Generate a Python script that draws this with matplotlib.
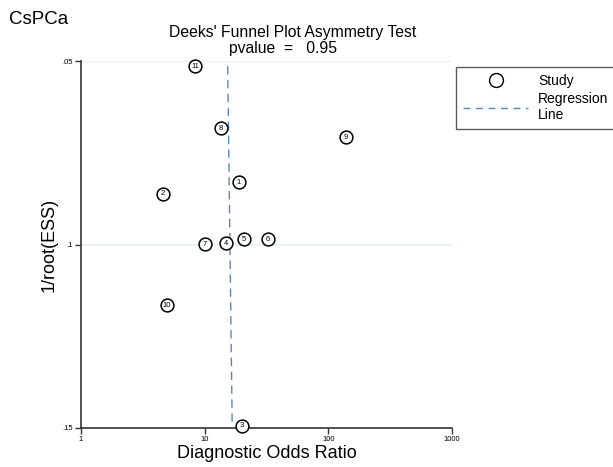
import matplotlib
matplotlib.use("Agg")
import matplotlib.pyplot as plt
from matplotlib.lines import Line2D

plt.rcParams['font.family'] = ['Liberation Sans', 'DejaVu Sans']

# Study data: diagnostic odds ratio vs 1/root(ESS)
study_ids = ['1', '2', '3', '4', '5', '6', '7', '8', '9', '10', '11']
dor = [18.9, 4.6, 19.9, 14.9, 20.8, 32.3, 10.1, 13.5, 138.8, 4.96, 8.35]
inv_root_ess = [0.0831, 0.0862, 0.1494, 0.0996, 0.0986, 0.0986, 0.0999, 0.0683, 0.0708, 0.1165, 0.0514]

# Regression line end points
reg_dor = [15.35, 16.7]
reg_y = [0.0514, 0.1494]

x_ticks = [1, 10, 100, 1000]
x_ticklabels = ['1', '10', '100', '1000']
y_ticks = [0.05, 0.1, 0.15]
y_ticklabels = ['.05', '.1', '.15']

W, H = 613, 467
fig = plt.figure(figsize=(W / 100, H / 100), dpi=100)
ax = fig.add_axes([81 / W, 1 - 428 / H, (452 - 81) / W, (428 - 61) / H])

ax.set_xscale('log')
ax.set_xlim(1, 1000)
ax.set_ylim(0.15, 0.05)

for gy in [0.05, 0.1]:
    ax.axhline(gy, color='#e3eef2', lw=1.2, zorder=0)

ax.plot(reg_dor, reg_y, ls=(0, (6, 4)), color='#5a88b5', lw=1.0, zorder=2)

ax.scatter(dor, inv_root_ess, s=85, facecolor='white', edgecolor='black', linewidths=1.1, zorder=3, clip_on=False)
for sid, xv, yv in zip(study_ids, dor, inv_root_ess):
    ax.text(xv, yv, sid, ha='center', va='center', fontsize=5.5, zorder=4)

ax.set_xticks(x_ticks)
ax.set_xticklabels(x_ticklabels)
ax.set_xticks([], minor=True)
ax.set_yticks(y_ticks)
ax.set_yticklabels(y_ticklabels)
ax.tick_params(axis='both', labelsize=5.5, length=4, width=1, color='#333333', direction='out', pad=2)

for s in ['top', 'right']:
    ax.spines[s].set_visible(False)
for s in ['left', 'bottom']:
    ax.spines[s].set_color('#333333')
    ax.spines[s].set_linewidth(1.2)

ax.set_xlabel('Diagnostic Odds Ratio', fontsize=13, labelpad=1)
ax.set_ylabel('1/root(ESS)', fontsize=13, labelpad=3)

fig.text(9 / W, 1 - 20 / H, 'CsPCa', fontsize=13.5, ha='left', va='center')
fig.text(293 / W, 1 - 32 / H, "Deeks' Funnel Plot Asymmetry Test", fontsize=11.3, ha='center', va='center')
fig.text(283 / W, 1 - 49 / H, "pvalue  =   0.95", fontsize=11.3, ha='center', va='center')

handles = [
    Line2D([], [], marker='o', ls='none', markerfacecolor='white', markeredgecolor='black', markersize=10, markeredgewidth=1.0),
    Line2D([], [], ls=(0, (5, 4)), color='#5a88b5', lw=1.0),
]
leg = fig.legend(handles, ['Study', 'Regression\nLine'], loc='upper left',
                 bbox_to_anchor=(456 / W, 1 - 67 / H), fontsize=10, frameon=True,
                 fancybox=False, edgecolor='#333333', handlelength=4.7, borderpad=0.5,
                 labelspacing=0.3, handletextpad=0.7, borderaxespad=0)
leg.get_frame().set_linewidth(1.0)

fig.savefig('out.png', dpi=100)
